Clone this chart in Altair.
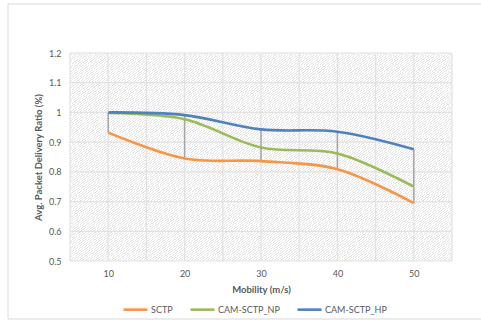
import altair as alt
import pandas as pd

# ---- data ----
mobility = [10, 20, 30, 40, 50]
sctp = [0.932, 0.845, 0.836, 0.809, 0.695]
cam_np = [0.998, 0.977, 0.882, 0.862, 0.750]
cam_hp = [1.000, 0.991, 0.943, 0.935, 0.876]
series_names = ["SCTP", "CAM-SCTP_NP", "CAM-SCTP_HP"]
series_colors = ["#F79646", "#9BBB59", "#4F81BD"]
x_labels = [10, 20, 30, 40, 50]
x_grid = [5, 10, 15, 20, 25, 30, 35, 40, 45, 50, 55]
y_ticks = [0.5, 0.6, 0.7, 0.8, 0.9, 1.0, 1.1, 1.2]

rows = []
for name, vals in zip(series_names, [sctp, cam_np, cam_hp]):
    for m, v in zip(mobility, vals):
        rows.append({"Mobility": m, "Ratio": v, "Series": name})
df = pd.DataFrame(rows)

W, H = 382, 208
FONT = "Lato"
GRAY_TXT = "#595959"

# diagonal hatch background as a striped gradient (Vega maps gradients into a
# square of side max(W, H), so a (0,1)->(1,0) vector gives 45-degree stripes)
side = max(W, H)
period_px = 3.2
n = int(round(2 * side / period_px))
frac = 0.36
stops = []
for i in range(n):
    t0 = i / n
    t1 = (i + frac) / n
    t2 = (i + 1) / n
    stops.append(alt.GradientStop(offset=t0, color="#e3e3e3"))
    stops.append(alt.GradientStop(offset=t1, color="#e3e3e3"))
    stops.append(alt.GradientStop(offset=t1, color="#ffffff"))
    stops.append(alt.GradientStop(offset=t2, color="#ffffff"))
hatch = alt.LinearGradient(gradient="linear", stops=stops, x1=0, y1=1, x2=1, y2=0)

x_scale = alt.Scale(domain=[5, 55], nice=False, zero=False)
y_scale = alt.Scale(domain=[0.5, 1.2], nice=False, zero=False)

x_axis = alt.Axis(
    values=x_labels,
    labelOverlap=False,
    labelFlush=False,
    title="Mobility (m/s)",
    titleX=W / 2,
    titleY=28,
    titleBaseline="middle",
    labelPadding=8,
)
y_axis = alt.Axis(
    values=y_ticks,
    format="~g",
    labelOverlap=False,
    labelFlush=False,
    title="Avg. Packet Delivery Ratio (%)",
    titleX=-32,
    titleY=H / 2,
    titleAngle=270,
    titleAlign="center",
    titleBaseline="middle",
    labelPadding=9,
)

border = alt.Chart(pd.DataFrame({"a": [0]})).mark_rect(
    fillOpacity=0, stroke="#d9d9d9", strokeWidth=1
).encode(
    x=alt.value(-62), x2=alt.value(440), y=alt.value(-49), y2=alt.value(266)
)

bg = alt.Chart(pd.DataFrame({"a": [0]})).mark_rect(fill=hatch).encode(
    x=alt.value(0), x2=alt.value("width"), y=alt.value(0), y2=alt.value("height")
)

grid_x = alt.Chart(pd.DataFrame({"Mobility": x_grid})).mark_rule(
    color="#e2e2e2", strokeWidth=1.2
).encode(x=alt.X("Mobility:Q", scale=x_scale, axis=x_axis))
grid_y = alt.Chart(pd.DataFrame({"Ratio": y_ticks})).mark_rule(
    color="#e2e2e2", strokeWidth=1.2
).encode(y=alt.Y("Ratio:Q", scale=y_scale, axis=y_axis))

hilo = alt.Chart(df).transform_aggregate(
    lo="min(Ratio)", hi="max(Ratio)", groupby=["Mobility"]
).mark_rule(color="#a6a6a6", strokeWidth=1.5).encode(
    x=alt.X("Mobility:Q", scale=x_scale, axis=x_axis),
    y=alt.Y("lo:Q", scale=y_scale, axis=y_axis),
    y2="hi:Q",
)

lines = alt.Chart(df).mark_line(interpolate="catmull-rom", strokeWidth=2.6).encode(
    x=alt.X("Mobility:Q", scale=x_scale, axis=x_axis),
    y=alt.Y("Ratio:Q", scale=y_scale, axis=y_axis),
    color=alt.Color(
        "Series:N",
        scale=alt.Scale(domain=series_names, range=series_colors),
        sort=series_names,
        legend=alt.Legend(title=None),
    ),
)

chart = alt.layer(border, bg, grid_x, grid_y, hilo, lines).properties(
    width=W,
    height=H,
    background="white",
    autosize=alt.AutoSizeParams(type="none"),
    padding={"left": 70, "top": 53, "right": 29, "bottom": 59},
).configure_view(stroke=None).configure_axis(
    grid=False,
    ticks=False,
    domain=False,
    labelOverlap=False,
    labelFont=FONT,
    labelFontSize=9,
    labelColor=GRAY_TXT,
    titleFont=FONT,
    titleFontSize=9.5,
    titleFontWeight="bold",
    titleColor=GRAY_TXT,
).configure_legend(
    orient="none",
    legendX=52,
    legendY=243,
    direction="horizontal",
    symbolType="stroke",
    symbolSize=576,
    symbolStrokeWidth=2.6,
    labelFont=FONT,
    labelFontSize=9,
    labelColor=GRAY_TXT,
    labelOffset=2,
    columnPadding=12,
)

chart.save("out.html", embed_options={"renderer": "svg", "actions": False})
